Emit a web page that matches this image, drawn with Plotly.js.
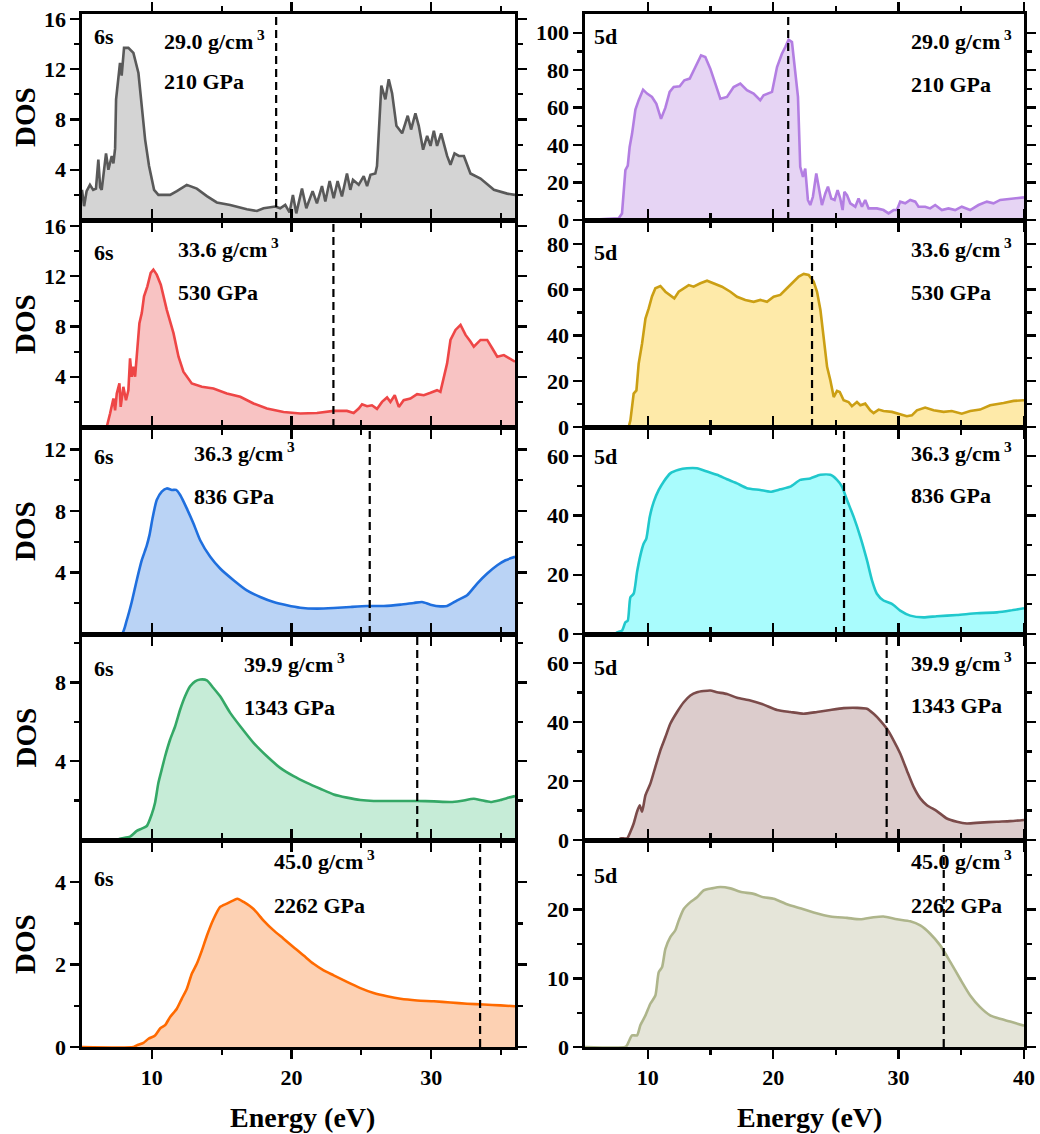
<!DOCTYPE html>
<html><head><meta charset="utf-8">
<script src="https://cdn.plot.ly/plotly-3.0.1.min.js"></script>
<style>html,body{margin:0;padding:0;background:#fff}</style>
</head><body><div id="chart" style="width:1040px;height:1134px"></div>
<script>
// ---------------- data ----------------
const E_6s_210 = [5.0,5.15,5.33,5.57,5.8,6.0,6.17,6.3,6.41,6.72,6.89,7.13,7.25,7.37,7.44,7.6,7.72,7.84,8.01,8.32,8.68,9.04,9.28,9.52,9.80,10.16,10.47,11.31,11.79,12.50,13.22,13.94,14.65,15.61,16.80,17.52,18.0,18.84,19.19,19.55,19.86,20.10,20.34,20.75,21.06,21.51,21.82,22.18,22.42,22.73,23.02,23.30,23.61,23.97,24.21,24.40,24.81,25.17,25.41,25.65,26.0,26.12,26.43,26.72,26.96,27.20,27.51,27.92,28.32,28.56,28.87,29.11,29.42,29.71,29.95,30.19,30.42,30.71,31.14,31.38,31.67,31.98,32.34,32.81,33.53,34.49,35.44,36.0];
const DOS_6s_210 = [2.4,1.1,2.3,2.8,2.4,2.5,4.8,2.6,2.4,5.3,4.0,5.1,4.5,5.7,9.6,11.5,12.5,11.5,13.7,13.7,13.3,11.7,8.8,6.4,4.3,2.4,2.0,2.0,2.3,2.8,2.5,1.9,1.4,1.2,0.85,0.72,0.93,1.07,0.93,1.2,0.6,2.0,0.53,2.5,0.93,2.3,1.33,2.7,1.47,3.1,1.73,3.1,1.87,3.7,2.4,3.2,2.8,3.5,2.7,3.6,3.7,4.3,10.7,9.6,11.2,10.1,7.5,6.9,8.3,7.2,8.5,7.5,5.6,6.7,5.9,7.1,5.9,6.9,5.1,4.4,5.3,5.1,5.1,3.7,3.3,2.4,2.1,2.0];

const E_5d_210 = [5.0,7.69,7.95,8.22,8.41,8.56,8.75,9.02,9.28,9.63,9.95,10.34,10.69,11.06,11.41,11.75,12.07,12.55,12.92,13.35,13.80,14.25,14.59,14.99,15.39,15.79,16.32,16.85,17.38,17.91,18.44,18.97,19.24,19.64,19.91,20.31,20.70,20.97,21.23,21.50,21.77,21.98,22.16,22.38,22.56,22.77,22.96,23.17,23.44,23.65,23.89,24.16,24.37,24.63,24.90,25.14,25.35,25.54,25.68,25.89,26.15,26.55,26.81,27.08,27.34,27.61,28.27,28.80,29.20,29.60,29.87,30.13,30.53,30.93,31.33,31.59,32.12,32.52,32.92,33.45,33.98,34.51,35.04,35.71,36.37,37.04,37.57,38.10,38.90,40.0];
const DOS_5d_210 = [0,0.9,3.5,26.6,29,39,46,59,64,69.6,67.5,65.7,62,54,60,68.4,71,71.4,74.6,75.5,81.7,87.9,87,80.8,72.8,64.8,65.7,71,72.8,69.3,67.5,64,66.6,67.5,68.4,81.7,88.8,92.4,96.3,95,76.4,65.7,28.4,23,27.5,10.7,8,12.4,24.9,17.8,8,14.2,17.8,11.5,10.7,16,11.5,5.3,15,13.3,8.9,7.1,11.5,7.1,10.7,6.2,6.2,5.3,3.5,5.3,5.3,9.8,8.9,10.7,9.8,7.1,7.1,6.2,8,5.3,6.2,5.3,7.1,5.3,8,9.8,8.9,10.7,11.4,12.1];

const E_6s_530 = [5.0,6.7,6.77,7.01,7.25,7.37,7.49,7.68,7.77,7.96,8.15,8.32,8.44,8.56,8.68,8.80,8.92,9.11,9.28,9.44,9.68,9.92,10.11,10.35,10.64,11.07,11.55,11.91,12.26,12.86,13.58,14.41,15.37,16.33,17.28,18.24,19.43,20.63,21.82,23.02,23.97,24.45,24.81,25.05,25.41,25.76,26.12,26.48,26.84,27.08,27.39,27.68,28.03,28.51,28.99,29.47,29.95,30.42,30.66,30.90,31.14,31.38,31.74,32.10,32.46,32.81,33.05,33.53,34.01,34.37,34.73,35.20,35.56,36.0];
const DOS_6s_530 = [0,0,0,1.07,2.27,1.33,2.67,3.47,1.6,3.2,2.13,2.93,5.47,4.0,4.8,4.0,5.87,8.27,9.07,10.4,11.2,12.27,12.53,12.13,11.33,9.33,7.47,5.6,4.4,3.47,3.2,3.07,2.67,2.4,1.87,1.47,1.2,1.07,1.12,1.28,1.28,1.12,1.47,1.81,1.65,1.73,1.44,2.0,2.35,2.0,2.53,1.6,2.13,2.27,2.61,2.53,2.72,2.93,2.8,3.87,5.07,6.93,7.73,8.13,7.33,6.8,6.4,6.93,6.93,6.27,5.6,5.73,5.47,5.2];

const E_5d_530 = [5.0,8.48,8.62,8.88,9.10,9.28,9.55,9.82,10.08,10.34,10.61,11.01,11.41,11.80,12.12,12.47,12.87,13.27,13.66,14.20,14.73,15.26,15.92,16.59,17.12,17.78,18.45,18.98,19.51,20.04,20.57,21.10,21.64,22.04,22.44,22.83,23.23,23.50,23.77,24.03,24.30,24.56,24.83,25.09,25.31,25.62,26.01,26.28,26.68,26.95,27.34,27.74,28.01,28.41,28.80,29.47,30.0,30.66,31.06,31.46,32.12,32.79,33.59,34.24,35.04,35.71,36.50,37.30,38.37,39.17,40.0];
const DOS_5d_530 = [0,0,2.9,14.6,16,27.7,36.5,47.4,51.8,57,60.6,61.6,59.1,57.7,56.2,59.1,60.6,62,61.3,62.8,63.9,62.8,61.3,59.1,56.9,55.5,54.7,55.5,54.7,56.9,57.7,60.6,63.5,65.7,66.9,66.4,63.5,59.1,51.1,38,26.3,20.4,13.1,15.8,15.3,11.7,10.9,9.1,10.9,9.5,10.2,7.3,6.1,7.6,7.0,6.6,5.8,4.7,5.1,7.3,8.5,7.3,6.6,7.0,5.8,7.0,7.6,9.5,10.5,11.4,11.7];

const E_6s_836 = [5.0,7.84,8.20,8.56,8.92,9.28,9.44,9.64,9.83,10.07,10.35,10.71,11.07,11.43,11.74,12.03,12.50,12.98,13.46,14.18,14.89,15.85,16.80,17.76,18.72,19.67,20.63,21.82,23.02,24.21,25.41,26.60,27.80,28.75,29.35,29.95,30.66,31.14,31.86,32.57,33.29,34.01,34.73,35.32,36.0];
const DOS_6s_836 = [0,0,0.89,2.08,3.5,4.8,5.23,5.77,6.43,7.63,8.71,9.26,9.47,9.37,9.37,9.04,8.17,7.19,6.1,5.02,4.26,3.5,2.84,2.41,2.08,1.87,1.71,1.65,1.69,1.76,1.82,1.82,1.91,2.02,2.08,1.91,1.8,1.82,2.19,2.52,3.28,3.93,4.47,4.8,5.02];

const E_5d_836 = [5.0,7.40,7.56,7.95,8.22,8.41,8.62,8.88,9.15,9.42,9.68,9.89,10.16,10.48,10.88,11.27,11.80,12.47,13.13,13.93,14.73,15.52,16.32,17.12,17.91,18.97,19.77,20.57,21.37,22.16,22.96,23.76,24.56,25.09,25.49,25.89,26.42,26.95,27.48,27.88,28.27,28.80,29.47,30.13,30.93,31.99,33.05,34.65,36.24,37.84,38.90,40.0];
const DOS_5d_836 = [0,0,0.56,1.13,3.95,4.52,12.4,13.6,20.9,26.6,30.5,32.2,39.5,44.6,48.6,51.4,54.2,55.4,55.9,55.9,54.8,53.7,52.2,50.8,49.2,48.6,48.0,48.8,49.7,52.0,52.5,53.7,53.7,52.0,49.7,45.2,39.5,32.8,24.9,18.1,13.6,11.3,10.2,7.9,6.2,5.6,6.0,6.4,7.0,7.3,7.9,8.7];

const E_6s_1343 = [5.0,7.5,7.72,8.44,8.92,9.28,9.64,9.99,10.23,10.47,10.71,10.95,11.31,11.67,12.03,12.38,12.74,13.10,13.46,13.94,14.41,14.89,15.61,16.33,17.28,18.24,19.19,20.15,21.11,22.06,23.02,23.97,24.93,25.88,26.84,27.80,28.99,30.19,31.38,32.10,33.05,33.53,34.25,34.96,35.56,36.0];
const DOS_6s_1343 = [0,0,0.07,0.17,0.46,0.58,0.71,1.3,1.89,2.9,3.58,4.25,5.1,5.77,6.62,7.29,7.8,8.05,8.14,8.1,7.71,7.29,6.45,5.77,4.93,4.25,3.66,3.24,2.9,2.6,2.31,2.15,2.03,1.98,1.98,1.98,1.98,1.96,1.93,1.98,2.09,2.03,1.93,2.03,2.15,2.23];

const E_5d_1343 = [5.0,7.7,7.82,8.35,8.62,8.88,9.15,9.36,9.55,9.82,10.21,10.61,11.01,11.41,11.80,12.34,12.87,13.40,13.93,14.46,14.99,15.52,16.32,17.12,18.18,19.24,20.31,21.37,22.43,23.50,24.56,25.62,26.68,27.48,28.01,28.54,29.07,29.60,30.13,30.66,31.20,31.73,32.26,33.05,33.85,34.65,35.44,36.50,37.84,38.90,40.0];
const DOS_5d_1343 = [0,0,0.56,0.56,2.8,5.6,9.6,11.8,9.6,15.2,19.1,24.8,30.4,34.9,39.4,43.4,46.7,49.0,50.1,50.5,50.7,50.1,49.5,48.2,47.3,45.9,44.1,43.4,42.8,43.4,44.1,44.7,44.8,44.5,42.8,40.5,37.7,33.8,29.3,23.6,18.0,14.1,11.8,9.8,7.3,6.2,5.6,5.9,6.2,6.4,6.8];

const E_6s_2262 = [5.0,8.68,8.92,9.40,9.76,10.23,10.59,10.95,11.31,11.79,12.14,12.50,12.86,13.22,13.58,13.94,14.41,14.89,15.37,15.85,16.13,16.57,17.28,18.0,18.72,19.43,20.15,20.87,21.58,22.30,23.02,23.97,24.93,25.88,26.84,27.80,28.99,30.19,31.38,32.57,33.77,34.96,36.0];
const DOS_6s_2262 = [0,0,0.04,0.1,0.2,0.28,0.45,0.53,0.73,0.93,1.17,1.41,1.78,2.02,2.34,2.7,3.1,3.4,3.48,3.56,3.6,3.52,3.35,3.07,2.83,2.63,2.42,2.22,2.02,1.86,1.74,1.58,1.43,1.31,1.23,1.17,1.13,1.11,1.08,1.05,1.03,1.01,0.99];

const E_5d_2262 = [5.0,8.2,8.35,8.75,9.15,9.42,9.82,10.21,10.61,10.88,11.14,11.41,11.80,12.20,12.47,12.87,13.40,13.93,14.46,15.12,15.79,16.59,17.38,18.44,19.24,20.04,21.10,22.16,23.23,24.56,25.89,26.95,28.01,28.80,29.87,30.93,31.73,32.52,33.32,34.12,34.91,35.71,36.50,37.30,38.10,38.90,40.0];
const DOS_5d_2262 = [0,0,0.25,1.7,1.7,3.2,4.6,6.3,7.5,10.9,11.6,14.3,16,17,18.4,20.1,21.1,21.8,22.8,23.1,23.3,23.1,22.6,22.3,21.8,21.6,20.8,20.2,19.6,19,18.8,18.6,18.9,19,18.6,18.3,17.7,16.5,14.8,12.4,9.9,7.5,5.8,4.6,4.1,3.7,3.1];

const fermi6s = [18.9, 23.0, 25.6, 29.0, 33.5];
const fermi5d = [21.2, 23.1, 25.65, 29.05, 33.6];
const densities = ['29.0', '33.6', '36.3', '39.9', '45.0'];
const pressures = ['210', '530', '836', '1343', '2262'];
const orbitals = ['6s', '5d'];
const xTicks6s = [10, 20, 30];
const xTicks5d = [10, 20, 30, 40];
const yTicks6s = [[4,8,12,16],[4,8,12,16],[4,8,12],[4,8],[0,2,4]];
const yTicks5d = [[0,20,40,60,80,100],[0,20,40,60,80],[0,20,40,60],[0,20,40,60],[0,10,20]];

// ---------------- styling ----------------
const series6s = [[E_6s_210,DOS_6s_210],[E_6s_530,DOS_6s_530],[E_6s_836,DOS_6s_836],[E_6s_1343,DOS_6s_1343],[E_6s_2262,DOS_6s_2262]];
const series5d = [[E_5d_210,DOS_5d_210],[E_5d_530,DOS_5d_530],[E_5d_836,DOS_5d_836],[E_5d_1343,DOS_5d_1343],[E_5d_2262,DOS_5d_2262]];
const lineL = ['#595959','#ee4646','#1f6fde','#34a866','#ff6a00'];
const fillL = ['#d4d4d4','#f8c3c3','#bad3f5','#c6ecd7','#fdd1b3'];
const lineR = ['#b37ee2','#cb9f14','#20c8cc','#7b4b4a','#aeb58b'];
const fillR = ['#e6d4f4','#feeaa9','#a9fcfd','#dccccc','#e5e5d9'];
const yRangeL = [[0,16.4],[0,16.4],[0,13.4],[0,10.4],[0,5]];
const yRangeR = [[0,110],[0,90],[0,69.5],[0,69.5],[0,30]];
const minorL = [[2,6,10,14],[2,6,10,14],[2,6,10],[2,6,10],[1,3]];
const minorR = [[10,30,50,70,90],[10,30,50,70],[10,30,50],[10,30,50],[5,15,25]];

const W = 1040, H = 1134;
const FONT = 'Liberation Serif, Times New Roman, serif';
const colPx = [[82,515],[585,1024]];
const rowPx = [[14,220],[221,427],[428,634],[635,840],[841,1047]];
const px = v => v / W;
const py = v => 1 - v / H;

const traces = [], layout = {
  width: W, height: H, margin: {l:0, r:0, t:0, b:0},
  paper_bgcolor: '#fff', plot_bgcolor: 'rgba(0,0,0,0)', showlegend: false,
  shapes: [], annotations: []
};
const tickFont = {family: FONT, size: 22, color: '#000', weight: 'bold'};

for (let r = 0; r < 5; r++) {
  for (let c = 0; c < 2; c++) {
    const i = r * 2 + c + 1;
    const xid = i === 1 ? 'x' : 'x' + i, yid = i === 1 ? 'y' : 'y' + i;
    const s = c === 0 ? series6s[r] : series5d[r];
    traces.push({
      x: s[0], y: s[1], xaxis: xid, yaxis: yid, type: 'scatter', mode: 'lines',
      line: {color: c === 0 ? lineL[r] : lineR[r], width: 2.6, shape: r >= 2 ? 'spline' : 'linear', smoothing: 0.6},
      fill: 'tozeroy', fillcolor: c === 0 ? fillL[r] : fillR[r], hoverinfo: 'skip'
    });
    const common = {
      showline: true, linewidth: 2.6, linecolor: '#000', mirror: 'allticks',
      ticks: 'outside', ticklen: 9, tickwidth: 2.4, tickcolor: '#000',
      showgrid: false, zeroline: false, tickfont: tickFont, fixedrange: true
    };
    layout['xaxis' + (i === 1 ? '' : i)] = Object.assign({}, common, {
      domain: [px(colPx[c][0]), px(colPx[c][1])],
      range: c === 0 ? [5, 36] : [5, 40],
      tickmode: 'array', tickvals: c === 0 ? xTicks6s : xTicks5d,
      showticklabels: r === 4, anchor: yid,
      minor: {tickmode: 'array', tickvals: [15, 25, 35], ticks: 'outside', ticklen: 5, tickwidth: 2.2, tickcolor: '#000'}
    });
    layout['yaxis' + (i === 1 ? '' : i)] = Object.assign({}, common, {
      domain: [py(rowPx[r][1]), py(rowPx[r][0])],
      range: c === 0 ? yRangeL[r] : yRangeR[r],
      tickmode: 'array', tickvals: c === 0 ? yTicks6s[r] : yTicks5d[r],
      anchor: xid, ticklabelstandoff: 0,
      minor: {tickmode: 'array', tickvals: c === 0 ? minorL[r] : minorR[r], ticks: 'outside', ticklen: 5, tickwidth: 2.2, tickcolor: '#000'}
    });
    const ef = c === 0 ? fermi6s[r] : fermi5d[r];
    layout.shapes.push({type: 'line', xref: xid, yref: yid + ' domain', x0: ef, x1: ef, y0: 0, y1: 1,
      line: {color: '#000', width: 2.2, dash: '8px,5px'}});
  }
}

const annFont = {family: FONT, size: 22, color: '#000', weight: 'bold'};
function ann(text, x, y, opts) {
  layout.annotations.push(Object.assign({text: text, xref: 'paper', yref: 'paper', x: px(x), y: py(y),
    xanchor: 'left', yanchor: 'middle', showarrow: false, font: annFont}, opts || {}));
}
const lblX6s = [162, 176, 192, 242, 272];
const orbY6s = [36, 252, 457, 668, 878], denY6s = [40, 248, 452, 663, 860], preY6s = [82, 292, 497, 707, 905];
const orbY5d = [37, 252, 457, 667, 875], denY5d = [40, 248, 452, 662, 860], preY5d = [85, 292, 495, 705, 905];
for (let r = 0; r < 5; r++) {
  ann(orbitals[0], 92, orbY6s[r]);
  ann(densities[r] + ' g/cm<sup> 3</sup>', lblX6s[r], denY6s[r]);
  ann(pressures[r] + ' GPa', lblX6s[r], preY6s[r]);
  ann(orbitals[1], 592, orbY5d[r]);
  ann(densities[r] + ' g/cm<sup> 3</sup>', 909, denY5d[r]);
  ann(pressures[r] + ' GPa', 909, preY5d[r]);
  ann('DOS', 25, (rowPx[r][0] + rowPx[r][1]) / 2, {xanchor: 'center', textangle: -90,
    font: {family: FONT, size: 29, color: '#000', weight: 'bold'}});
}
ann('Energy (eV)', 302, 1117, {xanchor: 'center', font: {family: FONT, size: 28, color: '#000', weight: 'bold'}});
ann('Energy (eV)', 809, 1117, {xanchor: 'center', font: {family: FONT, size: 28, color: '#000', weight: 'bold'}});

Plotly.newPlot('chart', traces, layout, {staticPlot: true, displayModeBar: false});
</script></body></html>
